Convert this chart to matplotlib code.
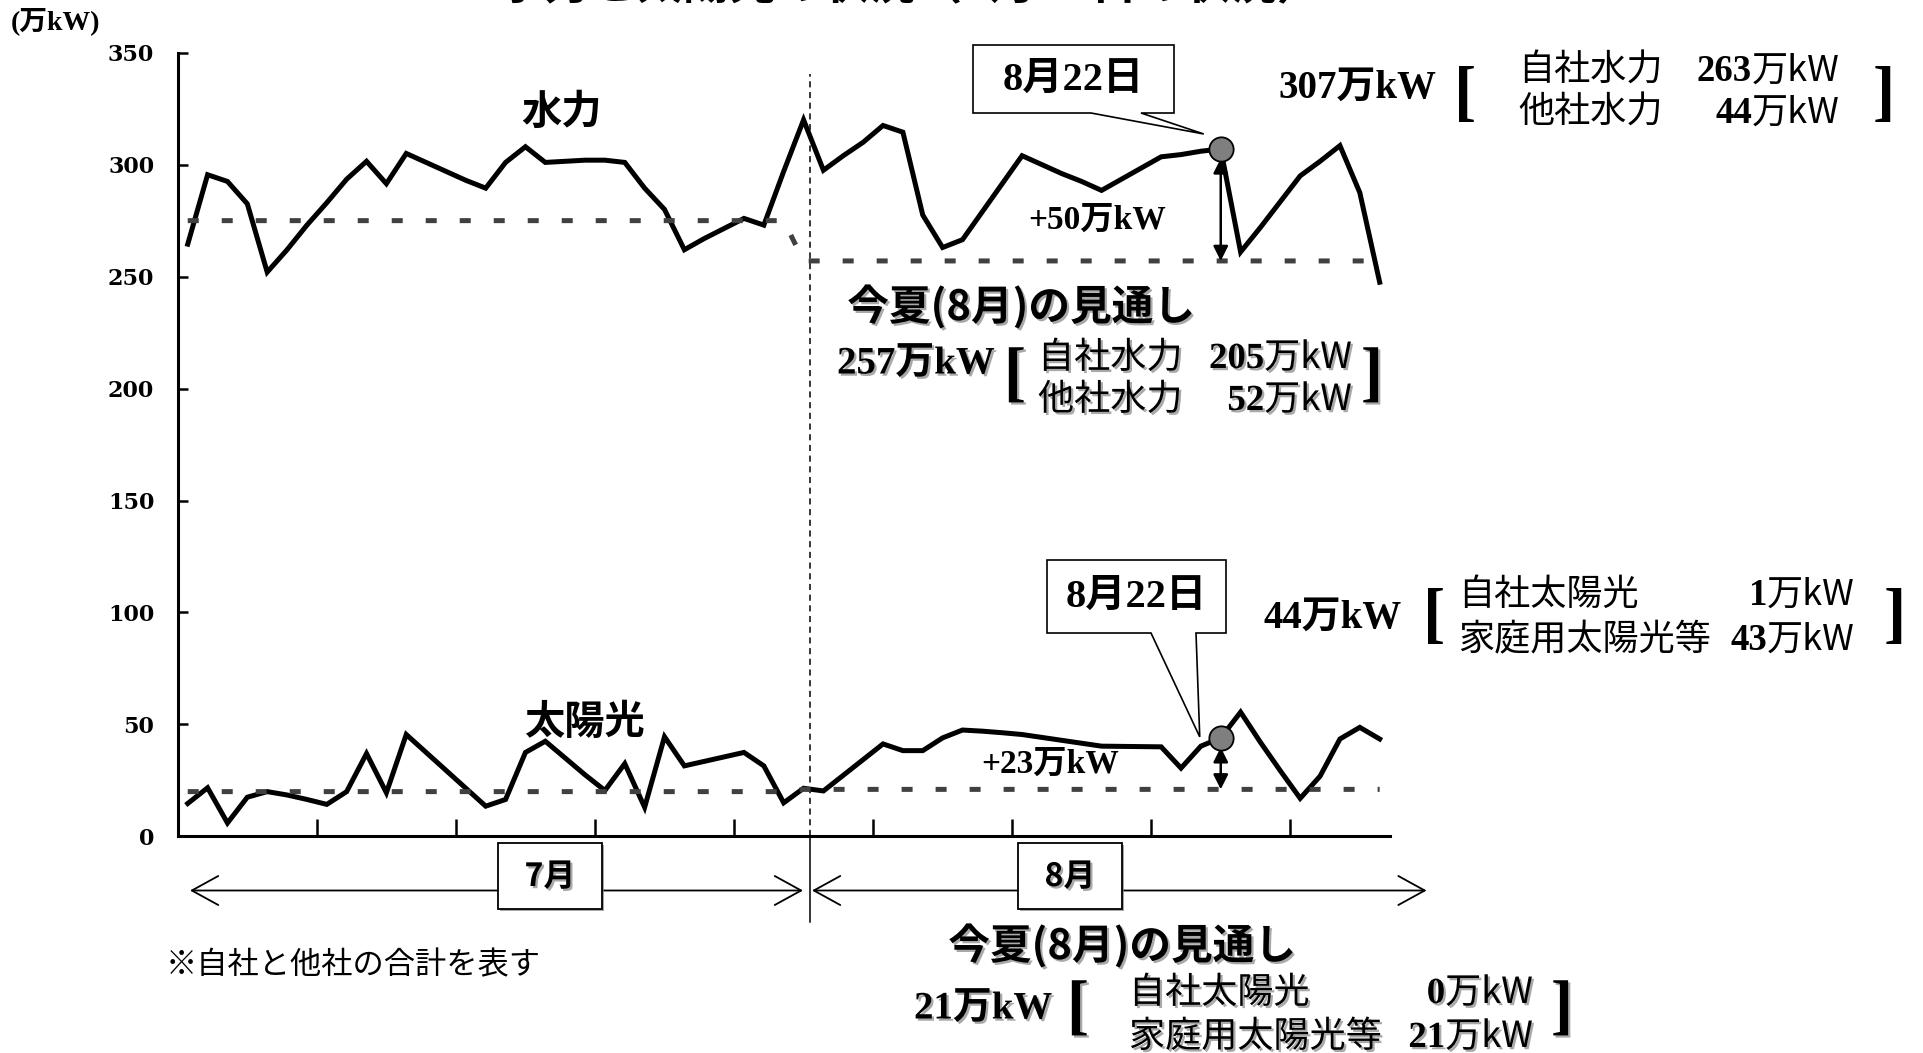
import matplotlib
matplotlib.use("Agg")
import matplotlib.pyplot as plt
import matplotlib.patheffects as pe
from matplotlib.patches import Polygon, Rectangle, FancyArrowPatch, ArrowStyle
from matplotlib.lines import Line2D

W, H, DPI = 1923, 1053, 100

# ---- data: daily output, 1 July .. 30 August (unit: 万kW) ----
days = list(range(1, 62))
hydro = [264.5, 295.5, 292.5, 282.5, 252.0, 262.0, 273.0, 283.0, 293.5, 301.5,
         291.5, 305.0, 301.0, 297.0, 293.0, 289.5, 301.0, 308.0, 301.0, 301.5,
         302.0, 302.0, 301.0, 289.5, 280.0, 262.0, 267.0, 271.5, 276.0, 273.0,
         297.0,
         320.0, 297.5, 304.0, 310.0, 317.5, 314.5, 277.5, 263.0, 266.5, 279.0,
         291.5, 304.0, 300.0, 296.0, 292.5, 288.5, 293.5, 298.5, 303.5, 304.5,
         306.0, 307.0, 261.0, 272.0, 283.5, 295.0, 301.5, 308.5, 287.5, 247.5]
solar = [14.7, 21.7, 6.0, 17.5, 20.0, 18.5, 16.5, 14.3, 20.0, 37.0,
         19.5, 45.5, 37.5, 29.5, 21.5, 13.5, 16.5, 37.5, 42.5, 35.0,
         27.5, 20.5, 32.5, 13.0, 44.5, 31.5, 33.5, 35.5, 37.5, 31.5,
         15.0,
         21.5, 20.3, 27.3, 34.3, 41.3, 38.3, 38.3, 44.0, 47.5, 47.0,
         46.3, 45.5, 44.2, 42.9, 41.6, 40.3, 40.2, 40.1, 40.0, 30.5,
         40.3, 44.0, 55.5, 42.0, 29.3, 17.0, 26.9, 43.5, 48.7, 43.5]
# outlook levels: July / August
hydro_outlook = [275] * 31 + [257] * 30
solar_outlook = [20] * 31 + [21] * 30
peak_day = 53                     # 8月22日
yticks = [0, 50, 100, 150, 200, 250, 300, 350]
week_ticks = [7.5, 14.5, 21.5, 28.5, 35.5, 42.5, 49.5, 56.5]
month_labels = ["7月", "8月"]

hydro_detail = [("自社水力", "263"), ("他社水力", "44")]
hydro_plan_detail = [("自社水力", "205"), ("他社水力", "52")]
solar_detail = [("自社太陽光", "1"), ("家庭用太陽光等", "43")]
solar_plan_detail = [("自社太陽光", "0"), ("家庭用太陽光等", "21")]

SERIF = ["Liberation Serif", "Noto Sans CJK JP"]
GOTHIC = ["Noto Sans CJK JP", "DejaVu Sans"]
SHADOW = [pe.SimplePatchShadow(offset=(1.6, -1.6), shadow_rgbFace="0.55", alpha=0.75), pe.Normal()]

fig = plt.figure(figsize=(W / DPI, H / DPI), dpi=DPI)
fig.patch.set_facecolor("white")


def fx(px):
    return px / W


def fy(py):
    return 1 - py / H


AX_L, AX_R, AX_T, AX_B = 177.8, 1389.6, 52.7, 836.4
ax = fig.add_axes([fx(AX_L), fy(AX_B), (AX_R - AX_L) / W, (AX_B - AX_T) / H])
ax.set_xlim(0.5, 61.5)
ax.set_ylim(0, 350)
for s in ("top", "right"):
    ax.spines[s].set_visible(False)
for s in ("left", "bottom"):
    ax.spines[s].set_linewidth(2.2)
ax.set_yticks(yticks)
ax.set_xticks(week_ticks)
ax.tick_params(axis="y", direction="in", length=7, width=1.8, pad=17, labelsize=16)
ax.tick_params(axis="x", direction="in", length=12, width=1.8, labelbottom=False)
for lbl in ax.get_yticklabels():
    lbl.set_family("DejaVu Serif")
    lbl.set_weight("bold")

# series
ax.plot(days, hydro, color="black", lw=3.6, solid_joinstyle="miter", zorder=3)
ax.plot(days, solar, color="black", lw=3.6, solid_joinstyle="miter", zorder=3)
ax.plot(days, hydro_outlook, color="#404040", lw=3.6, linestyle=(0, (2.2, 4.6)),
        dash_capstyle="butt", zorder=4)
ax.plot(days, solar_outlook, color="#404040", lw=3.6, linestyle=(0, (2.2, 4.6)),
        dash_capstyle="butt", zorder=4)

# month divider
MONTH_SPLIT = 32.3
ax.axvline(MONTH_SPLIT, ymin=0, ymax=340.7 / 350, color="black", lw=1.1,
           linestyle=(0, (4, 3)), zorder=2)
div_px = ax.transData.transform((MONTH_SPLIT, 0))[0]
fig.add_artist(Line2D([div_px / W, div_px / W], [fy(AX_B), fy(922)], color="black",
                      lw=1.1, transform=fig.transFigure))

# peak markers and gap arrows
hv = hydro[peak_day - 1]
sv = solar[peak_day - 1]
for val, base in ((hv, hydro_outlook[peak_day - 1]), (sv, solar_outlook[peak_day - 1])):
    ax.annotate("", xy=(peak_day, base), xytext=(peak_day, val - 4.2),
                arrowprops=dict(arrowstyle="<|-|>", lw=1.8, color="black",
                                shrinkA=0, shrinkB=0, mutation_scale=22), zorder=5)
    ax.plot(peak_day, val, "o", ms=17.5, mfc="#7f7f7f", mec="black", mew=1.3, zorder=6)


def data_px(x, y):
    X, Y = ax.transData.transform((x, y))
    return X, H - Y


def callout(box, base, tip, text):
    l, t, r, b = box
    pts = [(l, t), (r, t), (r, b), (base[1], b), tip, (base[0], b), (l, b)]
    fig.add_artist(Polygon([(fx(a), fy(c)) for a, c in pts], closed=True,
                           transform=fig.transFigure, facecolor="white",
                           edgecolor="black", lw=1.2, zorder=1))
    fig.text(fx((l + r) / 2), fy((t + b) / 2 + 1), text, ha="center", va="center",
             fontsize=29, family=SERIF, weight="bold")


mx, my = data_px(peak_day, hv)
callout((973, 45, 1174, 113), (1091, 1141), (mx - 17, my - 15), "8月22日")
mx, my = data_px(peak_day, sv)
callout((1047, 560, 1226, 633), (1151, 1196), (mx - 21, my - 1), "8月22日")

renderer = fig.canvas.get_renderer()


def amount(x_right, y_base, num, effects=None):
    u = fig.text(fx(x_right), fy(y_base), "万kW", ha="right", va="baseline",
                 fontsize=26, family=GOTHIC, path_effects=effects)
    bb = u.get_window_extent(renderer)
    fig.text(bb.x0 / W, fy(y_base), num, ha="right", va="baseline", fontsize=26.5,
             family=SERIF, weight="bold", path_effects=effects)


def bracket(x, y, ch, effects=None):
    fig.text(fx(x), fy(y), ch, ha="center", va="center", fontsize=48,
             family="Liberation Serif", weight="bold", path_effects=effects)


def block(total_xy, total, lb, rb, label_x, value_right, baselines, rows, effects=None):
    fig.text(fx(total_xy[0]), fy(total_xy[1]), total + "万kW", ha="left", va="center",
             fontsize=28, family=SERIF, weight="bold", path_effects=effects)
    bracket(lb[0], lb[1], "[", effects)
    bracket(rb[0], rb[1], "]", effects)
    for (name, num), yb in zip(rows, baselines):
        fig.text(fx(label_x), fy(yb), name, ha="left", va="baseline", fontsize=26,
                 family=GOTHIC, path_effects=effects)
        amount(value_right, yb, num, effects)


# current-day breakdowns
block((1278, 88), "307", (1465, 97), (1884, 97), 1518, 1840, (81, 123), hydro_detail)
block((1263, 618), "44", (1434, 619), (1895, 619), 1458, 1855, (605, 650), solar_detail)

# outlook breakdowns
fig.text(fx(1021), fy(307), "今夏(8月)の見通し", ha="center", va="center", fontsize=30,
         family=GOTHIC, weight="bold", path_effects=SHADOW)
block((837, 364), "257", (1015, 377), (1372, 377), 1038, 1352, (368, 410),
      hydro_plan_detail, SHADOW)
fig.text(fx(1122), fy(946), "今夏(8月)の見通し", ha="center", va="center", fontsize=30,
         family=GOTHIC, weight="bold", path_effects=SHADOW)
block((914, 1009), "21", (1078, 1010), (1562, 1010), 1129, 1533, (1003, 1047),
      solar_plan_detail, SHADOW)

# series labels
fig.text(fx(561), fy(112), "水力", ha="center", va="center", fontsize=29,
         family=GOTHIC, weight="bold")
fig.text(fx(584), fy(722), "太陽光", ha="center", va="center", fontsize=29,
         family=GOTHIC, weight="bold")
fig.text(fx(1097), fy(220), "+50万kW", ha="center", va="center", fontsize=24,
         family=SERIF, weight="bold")
fig.text(fx(1050), fy(764), "+23万kW", ha="center", va="center", fontsize=24,
         family=SERIF, weight="bold")

# unit, title, note
fig.text(fx(56), fy(21), "(万kW)", ha="center", va="center", fontsize=20,
         family=SERIF, weight="bold")
fig.text(fx(910), fy(-2), "水力と太陽光の状況（8月22日の状況）", ha="center",
         va="baseline", fontsize=33.5, family=GOTHIC, weight="bold")
fig.text(fx(166), fy(965), "※自社と他社の合計を表す", ha="left", va="center",
         fontsize=22.5, family=GOTHIC)

# month spans
ARROW_Y = 890.5
style = ArrowStyle("<->", head_length=1.0, head_width=0.55)
for (x0, x1), label, (bl, br) in zip(((190, 803), (812, 1426.6)), month_labels,
                                     ((498, 602), (1018, 1122))):
    fig.add_artist(FancyArrowPatch((fx(x0), fy(ARROW_Y)), (fx(x1), fy(ARROW_Y)),
                                   transform=fig.transFigure, arrowstyle=style,
                                   mutation_scale=19, lw=1.3, color="black",
                                   shrinkA=0, shrinkB=0))
    fig.add_artist(Rectangle((fx(bl), fy(909)), (br - bl) / W, 66.5 / H,
                             transform=fig.transFigure, facecolor="white",
                             edgecolor="black", lw=1.3, zorder=2,
                             path_effects=[pe.SimplePatchShadow(offset=(1.5, -1.5),
                                                                shadow_rgbFace="0.5",
                                                                alpha=0.7),
                                           pe.Normal()]))
    fig.text(fx((bl + br) / 2), fy(877), label, ha="center", va="center", fontsize=23,
             family=GOTHIC, weight="bold", zorder=3, path_effects=SHADOW)

fig.savefig("out.png", dpi=DPI, facecolor="white")
